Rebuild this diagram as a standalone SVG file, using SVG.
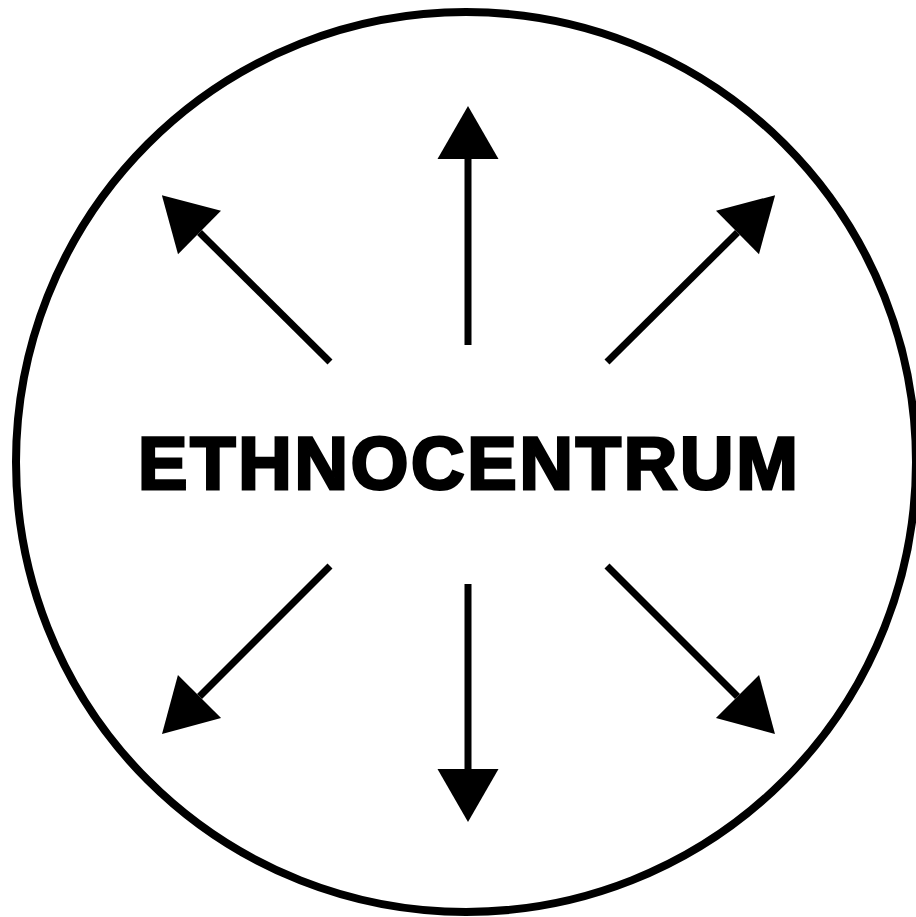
<svg xmlns="http://www.w3.org/2000/svg" width="916" height="917" viewBox="0 0 916 917">
<defs>
<marker id="ah" markerUnits="userSpaceOnUse" markerWidth="54" markerHeight="62" refX="0" refY="30.5" orient="auto" overflow="visible">
<path d="M0,0 L53,30.5 L0,61 Z" fill="#000"/>
</marker>
<style>
.c{fill:#fff;stroke:#000;stroke-width:8}
.a{stroke:#000;stroke-width:7;fill:none;marker-end:url(#ah)}
.t{font-family:"Liberation Sans",Arial,sans-serif;font-weight:bold;font-size:74px;fill:#000;stroke:#000;stroke-width:3;stroke-linejoin:miter}
</style>
</defs>
<rect width="916" height="917" fill="#fff"/>
<g id="circle"><circle class="c" cx="466" cy="462" r="450"/></g>
<g id="label"><text class="t" x="468" y="489" text-anchor="middle" textLength="660" lengthAdjust="spacing">ETHNOCENTRUM</text></g>
<g id="connectors">
<line class="a" x1="468" y1="345" x2="468" y2="159"/>
<line class="a" x1="468" y1="584" x2="468" y2="769"/>
<line class="a" x1="330" y1="362" x2="199.5" y2="232.5"/>
<line class="a" x1="607" y1="362" x2="737.5" y2="232.5"/>
<line class="a" x1="330" y1="566" x2="199.5" y2="696.5"/>
<line class="a" x1="607" y1="566" x2="737.5" y2="696.5"/>
</g>
</svg>
